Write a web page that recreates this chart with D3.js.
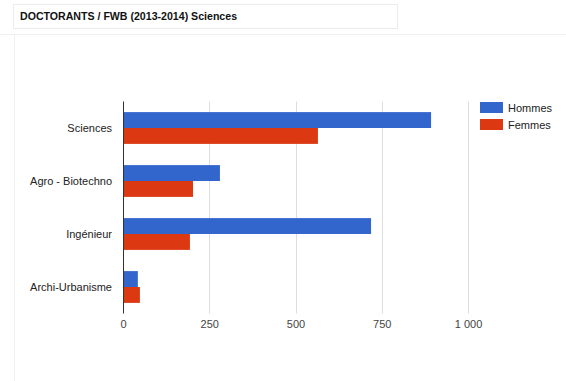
<!DOCTYPE html>
<html>
<head>
<meta charset="utf-8">
<script src="https://cdn.jsdelivr.net/npm/d3@7/dist/d3.min.js"></script>
<style>
  html, body { margin: 0; padding: 0; background: #fff; }
  svg { display: block; font-family: Arial, "Liberation Sans", sans-serif; }
</style>
</head>
<body>
<svg id="chart" width="566" height="381"></svg>
<script>
// Doctoral students by field, 2013-2014
const categories = ["Sciences", "Agro - Biotechno", "Ingénieur", "Archi-Urbanisme"];
const seriesNames = ["Hommes", "Femmes"];
const hommes = [893, 281, 719, 43];
const femmes = [565, 203, 194, 49];
const tickValues = [0, 250, 500, 750, 1000];
const tickLabels = ["0", "250", "500", "750", "1 000"];
const colors = ["#3366cc", "#dc3912"];

const svg = d3.select("#chart");

// Title panel
svg.append("rect")
  .attr("x", 13.5).attr("y", 4.5).attr("width", 384).attr("height", 24)
  .attr("fill", "#fff").attr("stroke", "#ececec");
svg.append("text")
  .attr("x", 20).attr("y", 20)
  .attr("font-size", 10.6).attr("font-weight", "bold").attr("fill", "#111")
  .text("DOCTORANTS / FWB (2013-2014) Sciences");

// Chart panel border
svg.append("line").attr("x1", 0).attr("x2", 566).attr("y1", 34.5).attr("y2", 34.5)
  .attr("stroke", "#f0f0f0");
svg.append("line").attr("x1", 14.5).attr("x2", 14.5).attr("y1", 34.5).attr("y2", 381)
  .attr("stroke", "#f0f0f0");

const plot = { left: 123, right: 468, top: 101.5, bottom: 313.5 };

const x = d3.scaleLinear().domain([0, 1000]).range([plot.left, plot.right]);
const y0 = d3.scaleBand().domain(categories).range([plot.top, plot.bottom]).paddingInner(0.4).paddingOuter(0.2);
const y1 = d3.scaleBand().domain(seriesNames).range([0, y0.bandwidth()]);

// Gridlines
svg.append("g")
  .selectAll("line")
  .data(tickValues.slice(1))
  .join("line")
  .attr("x1", d => Math.round(x(d)) + 0.5).attr("x2", d => Math.round(x(d)) + 0.5)
  .attr("y1", plot.top).attr("y2", plot.bottom)
  .attr("stroke", "#dcdcdc");

// Bars
const rows = categories.map((c, i) => ({ cat: c, values: [hommes[i], femmes[i]] }));
svg.append("g")
  .selectAll("g")
  .data(rows)
  .join("g")
  .attr("transform", d => `translate(0,${y0(d.cat)})`)
  .selectAll("rect")
  .data(d => d.values.map((v, j) => ({ name: seriesNames[j], v, j })))
  .join("rect")
  .attr("x", x(0))
  .attr("y", d => y1(d.name))
  .attr("width", d => x(d.v) - x(0))
  .attr("height", y1.bandwidth())
  .attr("fill", d => colors[d.j]);

// Baseline
svg.append("line")
  .attr("x1", x(0) + 0.5).attr("x2", x(0) + 0.5)
  .attr("y1", plot.top).attr("y2", plot.bottom)
  .attr("stroke", "#333");

const labelFont = "Arial, 'Liberation Sans', sans-serif";

// X axis labels
const xAxis = d3.axisBottom(x).tickValues(tickValues)
  .tickFormat((d, i) => tickLabels[i]).tickSize(0).tickPadding(7);
const gx = svg.append("g").attr("transform", `translate(0,${plot.bottom})`).call(xAxis);
gx.select(".domain").remove();
gx.selectAll("text").attr("font-size", 11).attr("fill", "#444").attr("font-family", labelFont);

// Y axis labels
const yAxis = d3.axisLeft(y0).tickSize(0).tickPadding(11);
const gy = svg.append("g").attr("transform", `translate(${plot.left},0)`).call(yAxis);
gy.select(".domain").remove();
gy.selectAll("text").attr("font-size", 11).attr("fill", "#222").attr("font-family", labelFont);

// Legend
const legend = svg.append("g").attr("transform", "translate(480,102)");
const items = legend.selectAll("g").data(seriesNames).join("g")
  .attr("transform", (d, i) => `translate(0,${i * 17})`);
items.append("rect").attr("width", 23).attr("height", 11).attr("fill", (d, i) => colors[i]);
items.append("text").attr("x", 28).attr("y", 9.5).attr("font-size", 11).attr("fill", "#222").text(d => d);
</script>
</body>
</html>
